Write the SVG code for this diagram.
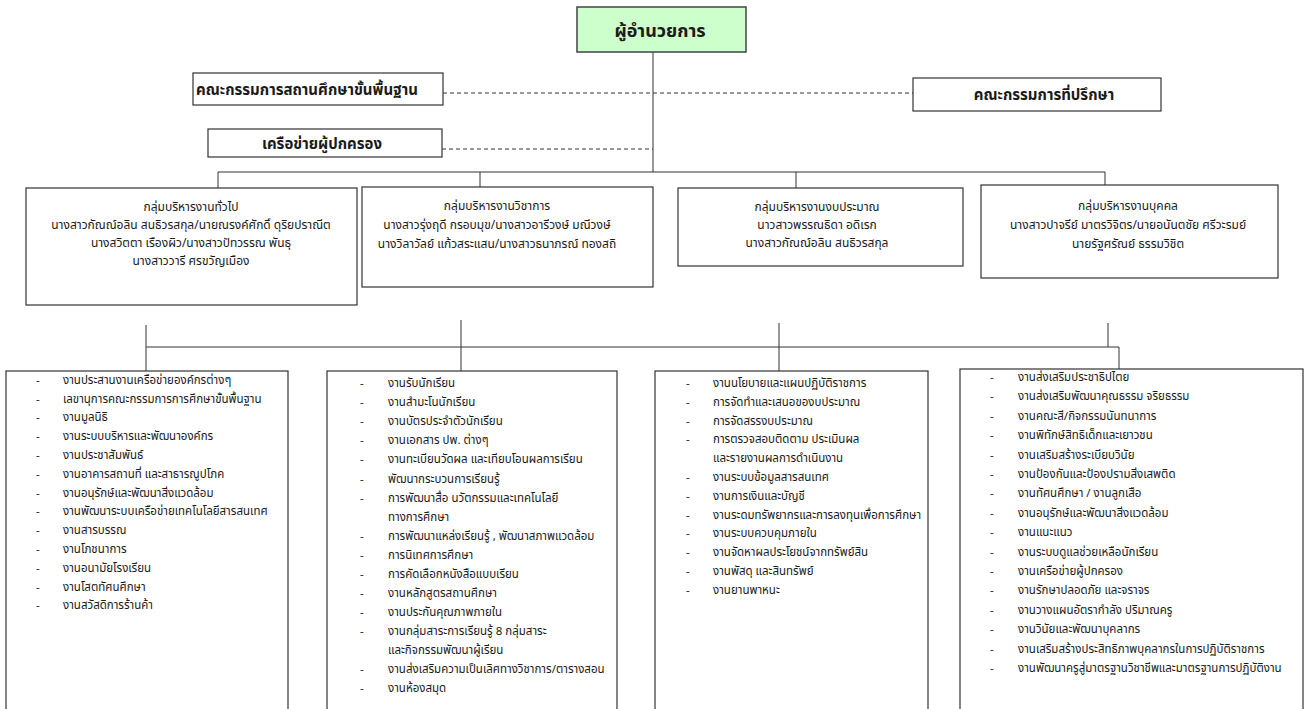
<svg xmlns="http://www.w3.org/2000/svg" width="1305" height="709" viewBox="0 0 1305 709">
<style>
text{font-family:"Noto Sans Thai","Noto Sans","DejaVu Sans",sans-serif;fill:#1a1a1a}
.box{fill:#fff;stroke:#333;stroke-width:1.2}
.dir{fill:#ccffcc;stroke:#444;stroke-width:1.5}
.h1{font-size:18px;font-weight:bold;text-anchor:middle}
.h2{font-size:15px;font-weight:bold;text-anchor:middle}
.g{font-size:12px;text-anchor:middle}
.li{font-size:11.5px;fill:#333}
.ln{stroke:#333;stroke-width:1;fill:none}
.dash{stroke:#333;stroke-width:1;stroke-dasharray:4 3;fill:none}
</style>
<rect width="1305" height="709" fill="#fff"/>
<g id="connectors">
<line class="ln" x1="653" y1="52" x2="653" y2="172"/>
<line class="ln" x1="218" y1="172" x2="1105" y2="172"/>
<line class="ln" x1="218" y1="172" x2="218" y2="188"/>
<line class="ln" x1="480" y1="172" x2="480" y2="187"/>
<line class="ln" x1="796" y1="172" x2="796" y2="188"/>
<line class="ln" x1="1105" y1="172" x2="1105" y2="185"/>
<line class="dash" x1="443" y1="93" x2="913" y2="93"/>
<line class="dash" x1="442" y1="149" x2="653" y2="149"/>
<line class="ln" x1="146" y1="347" x2="1119" y2="347"/>
<line class="ln" x1="146" y1="325" x2="146" y2="371"/>
<line class="ln" x1="461" y1="320" x2="461" y2="371"/>
<line class="ln" x1="779" y1="323" x2="779" y2="371"/>
<line class="ln" x1="1108" y1="323" x2="1108" y2="347"/>
<line class="ln" x1="1119" y1="347" x2="1119" y2="369"/>
</g>
<g id="director">
<rect class="dir" x="577" y="7" width="169" height="45"/>
<text class="h1" x="660" y="37">ผู้อำนวยการ</text>
</g>
<g id="basic-committee">
<rect class="box" x="193" y="73" width="250" height="32"/>
<text class="h2" x="307" y="95">คณะกรรมการสถานศึกษาขั้นพื้นฐาน</text>
</g>
<g id="advisory-committee">
<rect class="box" x="913" y="78" width="248" height="33"/>
<text class="h2" x="1044" y="100">คณะกรรมการที่ปรึกษา</text>
</g>
<g id="parent-network">
<rect class="box" x="208" y="129" width="234" height="28"/>
<text class="h2" x="322" y="149">เครือข่ายผู้ปกครอง</text>
</g>
<g id="group-general">
<rect class="box" x="26" y="188" width="331" height="117"/>
<text class="g" x="191" y="211">กลุ่มบริหารงานทั่วไป</text>
<text class="g" x="191" y="229">นางสาวกัณณ์อลิน สนธิวรสกุล/นายณรงค์ศักดิ์  ดุริยปราณีต</text>
<text class="g" x="191" y="247">นางสวิตตา  เรืองผิว/นางสาวปัทวรรณ พันธุ</text>
<text class="g" x="191" y="265">นางสาววารี ศรขวัญเมือง</text>
</g>
<g id="group-academic">
<rect class="box" x="362" y="187" width="291" height="100"/>
<text class="g" x="497" y="210">กลุ่มบริหารงานวิชาการ</text>
<text class="g" x="497" y="229">นางสาวรุ่งฤดี  กรอบมุข/นางสาวอารีวงษ์ มณีวงษ์</text>
<text class="g" x="497" y="248">นางวิลาวัลย์  แก้วสระแสน/นางสาวธนาภรณ์  ทองสถิ</text>
</g>
<g id="group-budget">
<rect class="box" x="678" y="188" width="285" height="78"/>
<text class="g" x="817" y="211">กลุ่มบริหารงานงบประมาณ</text>
<text class="g" x="817" y="229">นาวสาวพรรณธิดา  อดิเรก</text>
<text class="g" x="817" y="247">นางสาวกัณณ์อลิน สนธิวรสกุล</text>
</g>
<g id="group-personnel">
<rect class="box" x="981" y="185" width="297" height="93"/>
<text class="g" x="1128" y="210">กลุ่มบริหารงานบุคคล</text>
<text class="g" x="1128" y="229">นางสาวปาจรีย์ มาตรวิจิตร/นายอนันตชัย  ศรีวะรมย์</text>
<text class="g" x="1128" y="248">นายรัฐศรัณย์  ธรรมวิชิต</text>
</g>
<g id="list-general">
<rect class="box" x="6" y="371" width="282" height="345"/>
<g class="li">
<text x="36" y="384">-</text><text x="63" y="384">งานประสานงานเครือข่ายองค์กรต่างๆ</text>
<text x="36" y="403">-</text><text x="63" y="403">เลขานุการคณะกรรมการการศึกษาขั้นพื้นฐาน</text>
<text x="36" y="421">-</text><text x="63" y="421">งานมูลนิธิ</text>
<text x="36" y="440">-</text><text x="63" y="440">งานระบบบริหารและพัฒนาองค์กร</text>
<text x="36" y="459">-</text><text x="63" y="459">งานประชาสัมพันธ์</text>
<text x="36" y="478">-</text><text x="63" y="478">งานอาคารสถานที่ และสาธารณูปโภค</text>
<text x="36" y="497">-</text><text x="63" y="497">งานอนุรักษ์และพัฒนาสิ่งแวดล้อม</text>
<text x="36" y="515">-</text><text x="63" y="515">งานพัฒนาระบบเครือข่ายเทคโนโลยีสารสนเทศ</text>
<text x="36" y="534">-</text><text x="63" y="534">งานสารบรรณ</text>
<text x="36" y="553">-</text><text x="63" y="553">งานโภชนาการ</text>
<text x="36" y="572">-</text><text x="63" y="572">งานอนามัยโรงเรียน</text>
<text x="36" y="591">-</text><text x="63" y="591">งานโสตทัศนศึกษา</text>
<text x="36" y="609">-</text><text x="63" y="609">งานสวัสดิการร้านค้า</text>
</g>
</g>
<g id="list-academic">
<rect class="box" x="327" y="371" width="290" height="345"/>
<g class="li">
<text x="360" y="387">-</text><text x="388" y="387">งานรับนักเรียน</text>
<text x="360" y="406">-</text><text x="388" y="406">งานสำมะโนนักเรียน</text>
<text x="360" y="425">-</text><text x="388" y="425">งานบัตรประจำตัวนักเรียน</text>
<text x="360" y="444">-</text><text x="388" y="444">งานเอกสาร ปพ. ต่างๆ</text>
<text x="360" y="463">-</text><text x="388" y="463">งานทะเบียนวัดผล และเทียบโอนผลการเรียน</text>
<text x="360" y="483">-</text><text x="388" y="483">พัฒนากระบวนการเรียนรู้</text>
<text x="360" y="502">-</text><text x="388" y="502">การพัฒนาสื่อ นวัตกรรมและเทคโนโลยี</text>
<text x="388" y="521">ทางการศึกษา</text>
<text x="360" y="540">-</text><text x="388" y="540">การพัฒนาแหล่งเรียนรู้ , พัฒนาสภาพแวดล้อม</text>
<text x="360" y="559">-</text><text x="388" y="559">การนิเทศการศึกษา</text>
<text x="360" y="578">-</text><text x="388" y="578">การคัดเลือกหนังสือแบบเรียน</text>
<text x="360" y="597">-</text><text x="388" y="597">งานหลักสูตรสถานศึกษา</text>
<text x="360" y="616">-</text><text x="388" y="616">งานประกันคุณภาพภายใน</text>
<text x="360" y="635">-</text><text x="388" y="635">งานกลุ่มสาระการเรียนรู้ 8 กลุ่มสาระ</text>
<text x="388" y="654">และกิจกรรมพัฒนาผู้เรียน</text>
<text x="360" y="673">-</text><text x="388" y="673">งานส่งเสริมความเป็นเลิศทางวิชาการ/ตารางสอน</text>
<text x="360" y="692">-</text><text x="388" y="692">งานห้องสมุด</text>
</g>
</g>
<g id="list-budget">
<rect class="box" x="655" y="371" width="273" height="345"/>
<g class="li">
<text x="686" y="387">-</text><text x="713" y="387">งานนโยบายและแผนปฏิบัติราชการ</text>
<text x="686" y="406">-</text><text x="713" y="406">การจัดทำและเสนอของบประมาณ</text>
<text x="686" y="425">-</text><text x="713" y="425">การจัดสรรงบประมาณ</text>
<text x="686" y="443">-</text><text x="713" y="443">การตรวจสอบติดตาม ประเมินผล</text>
<text x="713" y="462">และรายงานผลการดำเนินงาน</text>
<text x="686" y="481">-</text><text x="713" y="481">งานระบบข้อมูลสารสนเทศ</text>
<text x="686" y="500">-</text><text x="713" y="500">งานการเงินและบัญชี</text>
<text x="686" y="519">-</text><text x="713" y="519">งานระดมทรัพยากรและการลงทุนเพื่อการศึกษา</text>
<text x="686" y="537">-</text><text x="713" y="537">งานระบบควบคุมภายใน</text>
<text x="686" y="556">-</text><text x="713" y="556">งานจัดหาผลประโยชน์จากทรัพย์สิน</text>
<text x="686" y="575">-</text><text x="713" y="575">งานพัสดุ และสินทรัพย์</text>
<text x="686" y="594">-</text><text x="713" y="594">งานยานพาหนะ</text>
</g>
</g>
<g id="list-personnel">
<rect class="box" x="960" y="369" width="343" height="347"/>
<g class="li">
<text x="990" y="381">-</text><text x="1018" y="381">งานส่งเสริมประชาธิปไตย</text>
<text x="990" y="400">-</text><text x="1018" y="400">งานส่งเสริมพัฒนาคุณธรรม จริยธรรม</text>
<text x="990" y="420">-</text><text x="1018" y="420">งานคณะสี/กิจกรรมนันทนาการ</text>
<text x="990" y="439">-</text><text x="1018" y="439">งานพิทักษ์สิทธิเด็กและเยาวชน</text>
<text x="990" y="459">-</text><text x="1018" y="459">งานเสริมสร้างระเบียบวินัย</text>
<text x="990" y="478">-</text><text x="1018" y="478">งานป้องกันและป้องปรามสิ่งเสพติด</text>
<text x="990" y="497">-</text><text x="1018" y="497">งานทัศนศึกษา / งานลูกเสือ</text>
<text x="990" y="517">-</text><text x="1018" y="517">งานอนุรักษ์และพัฒนาสิ่งแวดล้อม</text>
<text x="990" y="536">-</text><text x="1018" y="536">งานแนะแนว</text>
<text x="990" y="556">-</text><text x="1018" y="556">งานระบบดูแลช่วยเหลือนักเรียน</text>
<text x="990" y="575">-</text><text x="1018" y="575">งานเครือข่ายผู้ปกครอง</text>
<text x="990" y="594">-</text><text x="1018" y="594">งานรักษาปลอดภัย และจราจร</text>
<text x="990" y="614">-</text><text x="1018" y="614">งานวางแผนอัตรากำลัง ปริมาณครู</text>
<text x="990" y="633">-</text><text x="1018" y="633">งานวินัยและพัฒนาบุคลากร</text>
<text x="990" y="653">-</text><text x="1018" y="653">งานเสริมสร้างประสิทธิภาพบุคลากรในการปฏิบัติราชการ</text>
<text x="990" y="672">-</text><text x="1018" y="672">งานพัฒนาครูสู่มาตรฐานวิชาชีพและมาตรฐานการปฏิบัติงาน</text>
</g>
</g>
</svg>
